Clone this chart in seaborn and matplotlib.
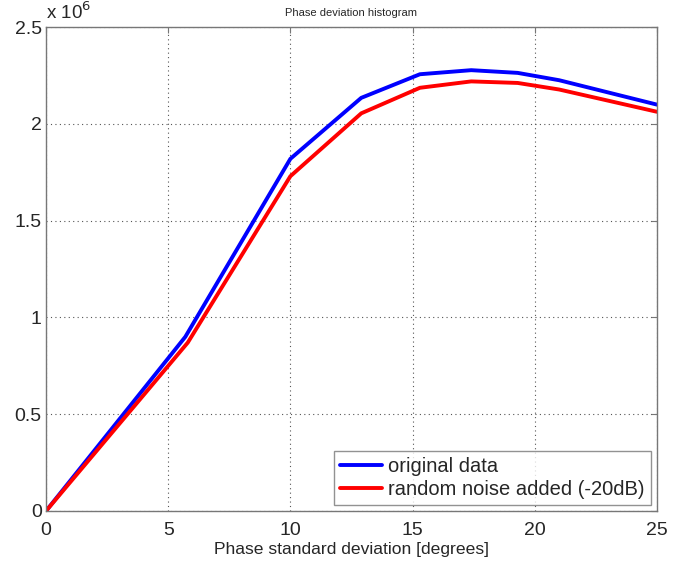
import numpy as np
import pandas as pd
import matplotlib
matplotlib.use("Agg")
import matplotlib.pyplot as plt
import seaborn as sns

# phase std (degrees) and histogram values in units of 1e6
phase_std = [0, 5.7, 10, 12.9, 15.3, 17.4, 19.3, 21.0, 25]
original = [0, 0.90, 1.82, 2.135, 2.257, 2.278, 2.264, 2.226, 2.10]
noisy_x = [0, 5.8, 10, 12.9, 15.3, 17.4, 19.3, 21.0, 25]
noisy = [0, 0.87, 1.73, 2.055, 2.187, 2.22, 2.212, 2.178, 2.063]

labels = ["original data", "random noise added (-20dB)"]

df = pd.concat([
    pd.DataFrame({"x": phase_std, "y": original, "series": labels[0]}),
    pd.DataFrame({"x": noisy_x, "y": noisy, "series": labels[1]}),
])

sns.set_style("white")
plt.rcParams["font.family"] = ["Liberation Sans", "DejaVu Sans"]

fig = plt.figure(figsize=(6.93, 5.67), dpi=100)
ax = fig.add_axes([0.0664, 0.0988, 0.8816, 0.8532])

sns.lineplot(data=df, x="x", y="y", hue="series", sort=False,
             palette={labels[0]: "#0000ff", labels[1]: "#ff0000"},
             linewidth=2.8, ax=ax, estimator=None)

ax.set_xlim(0, 25)
ax.set_ylim(0, 2.5)
ax.set_xticks([0, 5, 10, 15, 20, 25])
ax.set_yticks([0, 0.5, 1, 1.5, 2, 2.5])
ax.set_yticklabels(["0", "0.5", "1", "1.5", "2", "2.5"])
ax.grid(True, linestyle=(0, (1, 3)), color="#555555", linewidth=0.8)
ax.tick_params(direction="in", length=4, labelsize=14, top=True, right=True,
               color="#777777")
ax.tick_params(axis="x", pad=8)
ax.tick_params(axis="y", pad=3)
for s in ax.spines.values():
    s.set_color("#777777")
    s.set_linewidth(1.0)

ax.set_xlabel("Phase standard deviation [degrees]", fontsize=12.6, labelpad=2)
ax.set_ylabel("")
ax.set_title("Phase deviation histogram", fontsize=8, pad=8)
ax.text(0.0, 1.008, "x 10$^{6}$", transform=ax.transAxes, fontsize=13.5,
        ha="left", va="bottom")

leg = ax.legend(loc="lower right", fontsize=14.5, frameon=True, fancybox=False,
                handlelength=2.1, handletextpad=0.3, borderpad=0.3,
                labelspacing=0.2, borderaxespad=0.3)
leg.get_frame().set_edgecolor("#777777")
leg.get_frame().set_linewidth(1.0)
leg.set_title(None)

fig.savefig("out.png", dpi=100)
